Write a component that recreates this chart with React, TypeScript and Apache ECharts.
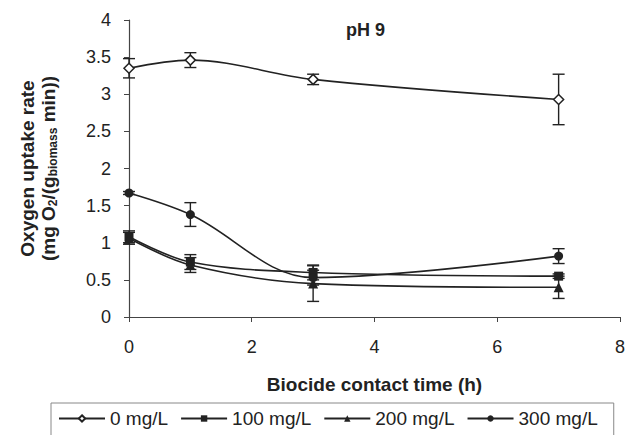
import React, { useEffect, useRef } from "react";
import * as echarts from "echarts";

const times = [0, 1, 3, 7];
const seriesNames = ["0 mg/L", "100 mg/L", "200 mg/L", "300 mg/L"];
const s0 = [3.35, 3.46, 3.2, 2.93];
const e0 = [0.13, 0.1, 0.07, 0.34];
const s100 = [1.08, 0.74, 0.6, 0.55];
const e100 = [0.08, 0.1, 0.1, 0.03];
const s200 = [1.06, 0.7, 0.45, 0.4];
const e200 = [0.08, 0.1, 0.24, 0.15];
const s300 = [1.67, 1.38, 0.53, 0.82];
const e300 = [0.02, 0.16, 0.1, 0.1];
const xTicks = [0, 2, 4, 6, 8];
const yTicks = [0, 0.5, 1, 1.5, 2, 2.5, 3, 3.5, 4];

const FONT = "Liberation Sans";
const INK = "#222";

export default function App() {
  const ref = useRef<HTMLDivElement>(null);
  useEffect(() => {
    if (!ref.current) return;
    const chart = echarts.init(ref.current, undefined, { renderer: "svg" });
    const values = [s0, s100, s200, s300];
    const errors = [e0, e100, e200, e300];
    const symbols = ["diamond", "rect", "triangle", "circle"];
    const sizes = [10, 9, 10, 9];
    const lineSeries = values.map((vals, i) => ({
      type: "line",
      name: seriesNames[i],
      data: times.map((t, j) => [t, vals[j]]),
      smooth: 0.35,
      symbol: symbols[i],
      symbolSize: sizes[i],
      showSymbol: true,
      lineStyle: { color: INK, width: 1.6 },
      itemStyle: {
        color: i === 0 ? "#fff" : INK,
        borderColor: INK,
        borderWidth: i === 0 ? 1.5 : 0,
      },
      z: 3,
    }));
    const errSeries = values.map((vals, i) => ({
      type: "custom",
      name: seriesNames[i],
      data: times.map((t, j) => [t, vals[j] - errors[i][j], vals[j] + errors[i][j]]),
      renderItem: (params: any, api: any) => {
        const x = api.value(0);
        const lo = api.coord([x, api.value(1)]);
        const hi = api.coord([x, api.value(2)]);
        const w = 6;
        const st = { stroke: INK, lineWidth: 1.4 };
        return {
          type: "group",
          children: [
            { type: "line", shape: { x1: lo[0], y1: lo[1], x2: hi[0], y2: hi[1] }, style: st },
            { type: "line", shape: { x1: lo[0] - w, y1: lo[1], x2: lo[0] + w, y2: lo[1] }, style: st },
            { type: "line", shape: { x1: hi[0] - w, y1: hi[1], x2: hi[0] + w, y2: hi[1] }, style: st },
          ],
        };
      },
      z: 2,
      silent: true,
    }));
    chart.setOption({
      animation: false,
      backgroundColor: "#fff",
      textStyle: { fontFamily: FONT, color: INK },
      title: {
        text: "pH 9",
        left: 341,
        top: 16,
        textStyle: { fontFamily: FONT, fontWeight: "bold", fontSize: 18, color: INK },
      },
      grid: { left: 129, right: 1, top: 20, bottom: 118 },
      legend: {
        data: seriesNames.map((n) => ({ name: n })),
        left: 51,
        top: 403,
        orient: "horizontal",
        itemWidth: 46,
        itemHeight: 8,
        itemGap: 12,
        padding: [6, 16, 12, 7],
        borderColor: "#888",
        borderWidth: 1,
        textStyle: { fontFamily: FONT, fontSize: 19, color: INK },
      },
      xAxis: {
        type: "value",
        min: 0,
        max: 8,
        interval: 2,
        name: "Biocide contact time (h)",
        nameLocation: "middle",
        nameGap: 58,
        nameTextStyle: { fontFamily: FONT, fontWeight: "bold", fontSize: 19, color: INK },
        axisLine: { show: true, lineStyle: { color: "#444", width: 1.2 } },
        axisTick: { show: true, length: 5, lineStyle: { color: "#444" } },
        axisLabel: { fontFamily: FONT, fontSize: 18, color: INK, margin: 21,
          formatter: (v: number) => (xTicks.includes(v) ? String(v) : "") },
        splitLine: { show: false },
      },
      yAxis: {
        type: "value",
        min: 0,
        max: 4,
        interval: 0.5,
        name: "{b|Oxygen uptake rate}\n{b|(mg O}{s|2}{b|/(g}{s|biomass}{b| min))}",
        nameLocation: "middle",
        nameGap: 70,
        nameTextStyle: {
          fontFamily: FONT,
          color: INK,
          rich: {
            b: { fontFamily: FONT, fontWeight: "bold", fontSize: 19, color: INK, lineHeight: 21 },
            s: { fontFamily: FONT, fontWeight: "bold", fontSize: 12, color: INK, lineHeight: 21, verticalAlign: "bottom", padding: [7, 0, 0, 0] },
          },
        },
        axisLine: { show: true, lineStyle: { color: "#444", width: 1.2 } },
        axisTick: { show: true, length: 5, lineStyle: { color: "#444" } },
        axisLabel: { fontFamily: FONT, fontSize: 18, color: INK, margin: 18,
          formatter: (v: number) => (yTicks.includes(v) ? String(v) : "") },
        splitLine: { show: false },
      },
      series: [...lineSeries, ...errSeries],
    });
    return () => chart.dispose();
  }, []);
  return <div ref={ref} style={{ width: 628, height: 435, position: "absolute", left: 0, top: 0 }} />;
}
